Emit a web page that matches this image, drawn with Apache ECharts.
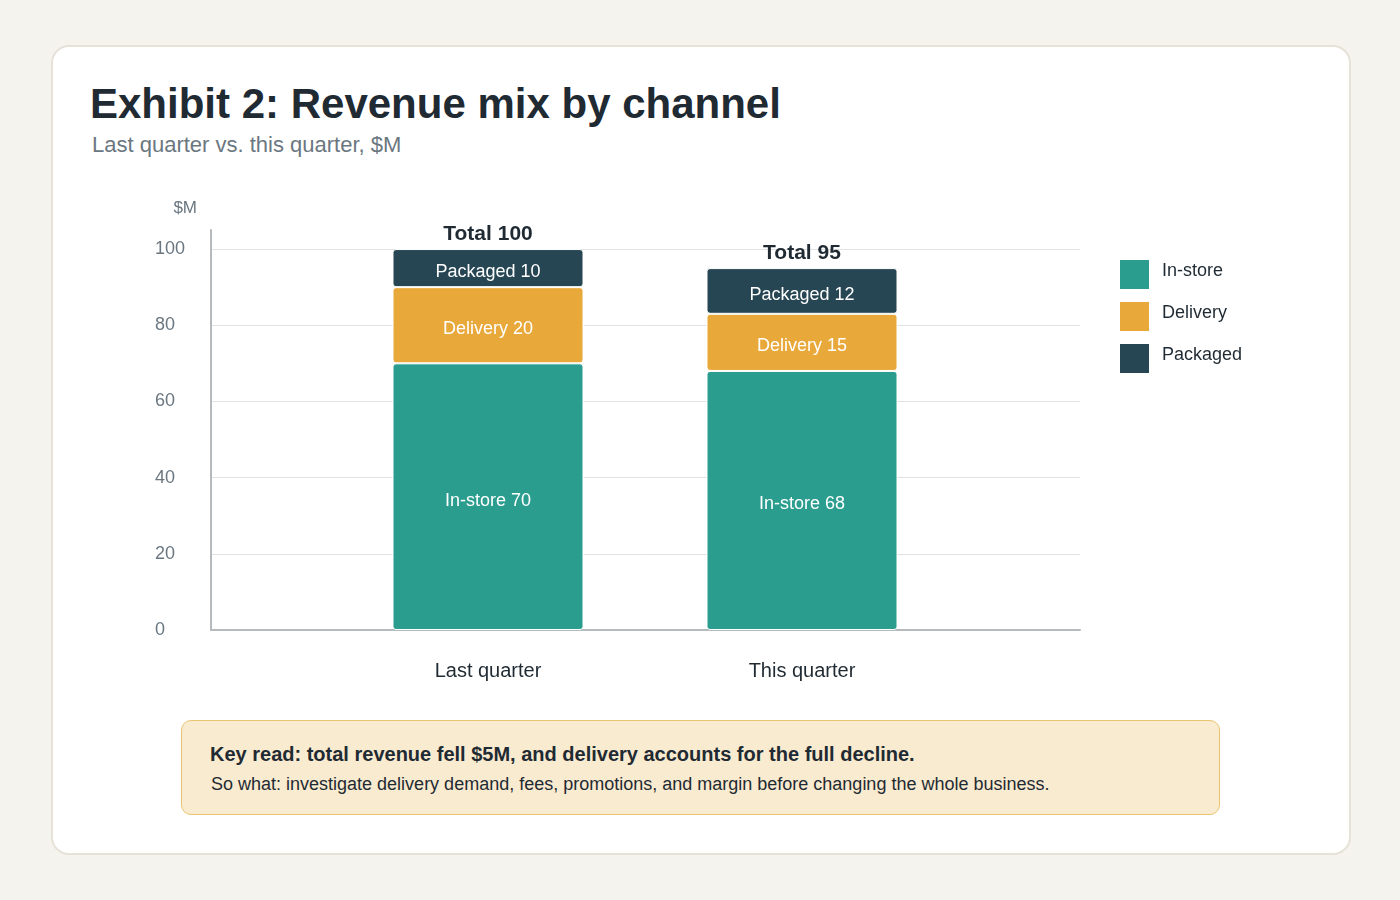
<!DOCTYPE html>
<html>
<head>
<meta charset="utf-8">
<title>Revenue mix by channel</title>
<script src="https://cdn.jsdelivr.net/npm/echarts@6/dist/echarts.min.js"></script>
<style>
  html, body {
    margin: 0;
    padding: 0;
    width: 1400px;
    height: 900px;
    background: #f5f3ee;
    font-family: "Liberation Sans", Arial, sans-serif;
    overflow: hidden;
  }
  .card {
    position: absolute;
    left: 51px;
    top: 45px;
    width: 1296px;
    height: 806px;
    background: #fff;
    border: 2px solid #e6e2d8;
    border-radius: 18px;
  }
  .title {
    position: absolute;
    left: 90px;
    top: 83px;
    margin: 0;
    font-size: 42px;
    line-height: 42px;
    font-weight: bold;
    color: #1f2a33;
    white-space: nowrap;
  }
  .subtitle {
    position: absolute;
    left: 92px;
    top: 134px;
    margin: 0;
    font-size: 22px;
    line-height: 22px;
    color: #6b7780;
    white-space: nowrap;
  }
  #chart {
    position: absolute;
    left: 0;
    top: 0;
    width: 1400px;
    height: 900px;
  }
  .note {
    position: absolute;
    left: 181px;
    top: 720px;
    width: 1037px;
    height: 93px;
    background: #f9ebcf;
    border: 1px solid #e8c470;
    border-radius: 10px;
  }
  .note .key {
    position: absolute;
    left: 28px;
    top: 23px;
    margin: 0;
    font-size: 20px;
    line-height: 20px;
    font-weight: bold;
    color: #1f2a33;
    white-space: nowrap;
  }
  .note .so {
    position: absolute;
    left: 29px;
    top: 54px;
    margin: 0;
    font-size: 18px;
    line-height: 18px;
    color: #1f2a33;
    white-space: nowrap;
  }
</style>
</head>
<body>
<div class="card"></div>
<p class="title">Exhibit 2: Revenue mix by channel</p>
<p class="subtitle">Last quarter vs. this quarter, $M</p>
<div id="chart"></div>
<div class="note">
  <p class="key">Key read: total revenue fell $5M, and delivery accounts for the full decline.</p>
  <p class="so">So what: investigate delivery demand, fees, promotions, and margin before changing the whole business.</p>
</div>
<script>
const categories = ['Last quarter', 'This quarter']
const inStore = [70, 68]
const delivery = [20, 15]
const packaged = [10, 12]
const yTicks = [0, 20, 40, 60, 80, 100]

const totals = categories.map((c, i) => inStore[i] + delivery[i] + packaged[i])

const colors = {
  inStore: '#2a9d8f',
  delivery: '#e8a83a',
  packaged: '#264653'
}
const ink = '#1f2a33'
const muted = '#6b7780'
const axisGrey = '#b5babe'

const segment = (name, data, color) => ({
  name: name,
  type: 'bar',
  stack: 'mix',
  xAxisIndex: 1,
  yAxisIndex: 1,
  barWidth: 191,
  z: 3,
  data: data,
  itemStyle: {
    color: color,
    borderColor: '#fff',
    borderWidth: 1,
    borderRadius: 3
  },
  label: {
    show: true,
    position: 'inside',
    offset: [0, 4],
    formatter: '{a} {c}',
    color: '#fff',
    fontSize: 18,
    fontFamily: 'Liberation Sans'
  }
})

const chart = echarts.init(document.getElementById('chart'))
chart.setOption({
  backgroundColor: 'transparent',
  animation: false,
  textStyle: { fontFamily: 'Liberation Sans' },
  grid: [
    { left: 211, right: 320, top: 230, bottom: 270 },
    { left: 331, right: 441, top: 230, bottom: 270 }
  ],
  legend: {
    data: ['In-store', 'Delivery', 'Packaged'],
    orient: 'vertical',
    left: 1120,
    top: 260,
    padding: 0,
    icon: 'rect',
    itemWidth: 29,
    itemHeight: 29,
    itemGap: 13,
    itemStyle: { borderWidth: 0 },
    selectedMode: false,
    formatter: '{t|{name}}',
    textStyle: {
      rich: {
        t: {
          fontSize: 18,
          color: ink,
          padding: [0, 0, 6, 8]
        }
      }
    }
  },
  xAxis: [
    {
      gridIndex: 0,
      type: 'category',
      data: categories,
      axisLine: { show: true, lineStyle: { color: axisGrey, width: 2 } },
      axisTick: { show: false },
      axisLabel: { show: false }
    },
    {
      gridIndex: 1,
      type: 'category',
      data: categories,
      axisLine: { show: false },
      axisTick: { show: false },
      axisLabel: {
        margin: 31,
        fontSize: 20,
        color: ink
      }
    }
  ],
  yAxis: [
    {
      gridIndex: 0,
      type: 'value',
      min: yTicks[0],
      max: 105,
      interval: 20,
      name: '$M',
      nameLocation: 'end',
      nameGap: 13,
      nameTextStyle: {
        fontSize: 17,
        color: muted,
        align: 'right',
        padding: [0, 14, 0, 0]
      },
      axisLine: { show: true, lineStyle: { color: axisGrey, width: 2 } },
      axisTick: { show: false },
      axisLabel: {
        showMaxLabel: false,
        align: 'left',
        margin: 56,
        fontSize: 18,
        color: muted
      },
      splitLine: {
        show: true,
        showMaxLine: false,
        lineStyle: { color: '#e2e2e2', width: 1 }
      }
    },
    {
      gridIndex: 1,
      type: 'value',
      min: yTicks[0],
      max: 105,
      interval: 20,
      show: false
    }
  ],
  series: [
    segment('In-store', inStore, colors.inStore),
    segment('Delivery', delivery, colors.delivery),
    segment('Packaged', packaged, colors.packaged),
    {
      name: 'Total',
      type: 'bar',
      xAxisIndex: 1,
      yAxisIndex: 1,
      barWidth: 191,
      barGap: '-100%',
      z: 1,
      silent: true,
      data: totals,
      itemStyle: { color: 'rgba(0,0,0,0)' },
      label: {
        show: true,
        position: 'top',
        distance: 4,
        formatter: 'Total {c}',
        fontSize: 21,
        fontWeight: 'bold',
        color: ink
      }
    }
  ]
})
</script>
</body>
</html>
